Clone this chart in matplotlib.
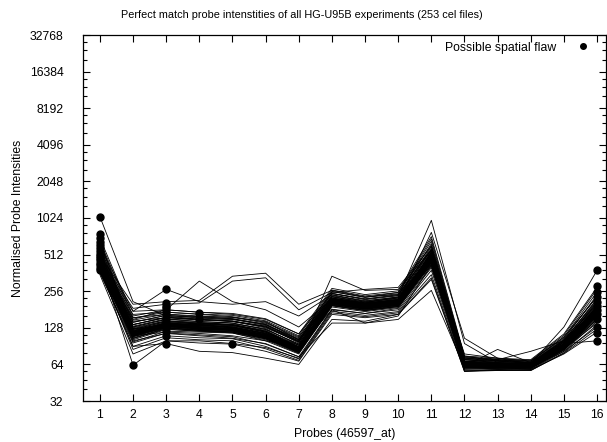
import numpy as np
import matplotlib
matplotlib.use("Agg")
import matplotlib.pyplot as plt
from matplotlib.ticker import FixedLocator, NullFormatter

plt.rcParams["font.family"] = ["Liberation Sans", "DejaVu Sans"]
plt.rcParams["font.size"] = 8.8

probes = list(range(1, 17))

# normalised PM intensities, one row per cel file (probes 1..16)
band = [
  [380,105,125,120,116,100,78,195,178,192,430,61,60,60,86,160],
  [400,112,132,126,122,106,82,205,186,200,455,63,62,62,89,170],
  [420,118,138,132,128,112,86,215,195,210,480,65,63,63,92,180],
  [450,124,144,138,134,118,90,225,204,220,510,67,65,64,95,192],
  [480,130,150,144,140,124,94,235,212,230,540,68,66,65,98,205],
  [520,136,156,150,146,130,98,245,220,240,575,70,67,66,101,218],
  [560,142,162,156,152,136,102,255,228,250,610,72,69,68,105,232],
  [360,96,116,112,108,94,74,182,168,180,400,59,58,58,82,145],
  [370,90,110,106,104,90,71,175,162,174,380,58,57,57,80,135],
  [390,85,106,102,100,86,69,170,158,170,350,57,57,57,79,125],
  [410,145,155,150,145,130,100,215,195,210,460,64,63,62,92,178],
  [430,155,165,158,152,136,104,225,202,218,500,66,64,63,95,188],
  [440,165,172,165,158,142,108,232,208,225,520,68,66,64,98,198],
  [460,175,180,172,165,150,114,245,218,235,560,70,68,66,102,212],
  [350,78,100,96,94,82,68,165,155,165,320,56,57,58,78,118],
  [395,108,128,122,118,104,81,200,182,196,445,62,61,61,88,165],
  [405,114,134,128,124,108,83,208,188,202,465,63,62,62,90,172],
  [415,116,136,130,126,110,85,212,192,206,475,64,63,62,91,176],
  [425,120,140,134,130,114,87,218,198,212,490,65,64,63,93,182],
  [435,126,136,140,136,120,89,212,194,208,505,65,63,63,92,185],
  [445,110,130,136,134,118,88,206,188,202,520,64,62,62,91,180],
  [455,106,126,124,124,112,84,200,182,196,535,63,62,61,90,172],
  [465,112,132,126,122,108,82,196,178,192,550,62,61,61,89,168],
  [475,116,136,130,126,112,84,204,186,200,495,64,62,62,91,176],
  [490,120,140,134,130,116,88,212,194,208,510,66,64,63,93,186],
  [510,126,146,140,136,120,92,222,202,216,525,67,65,64,95,196],
  [530,132,152,144,140,124,94,230,208,222,560,68,66,65,97,206],
  [550,136,156,148,144,128,98,238,214,228,595,70,68,66,100,222],
  [580,142,162,154,150,134,102,246,222,236,630,71,69,67,103,238],
  [620,148,166,160,156,140,106,254,228,244,660,72,70,68,107,252],
  [660,154,172,166,162,146,110,262,234,250,690,73,71,69,111,266],
  [700,160,180,172,168,152,114,270,240,258,720,75,72,70,114,276],
  [385,98,120,118,116,102,79,190,174,188,410,60,59,59,84,150],
  [398,102,124,120,118,104,80,194,177,191,425,61,60,60,85,155],
  [412,104,128,122,120,106,81,197,180,194,440,62,60,60,86,160],
  [428,108,131,125,122,108,82,200,183,197,455,62,61,61,87,164],
  [442,110,134,128,124,110,83,203,186,200,468,63,61,61,88,168],
  [458,113,136,131,126,112,84,206,189,203,478,64,62,61,89,172],
  [472,116,138,134,128,114,85,209,192,206,488,64,62,62,90,176],
  [488,118,140,136,130,116,86,212,195,209,498,65,63,62,91,180],
  [505,121,142,138,132,118,87,215,198,212,508,65,63,63,92,184],
  [525,124,144,140,134,120,88,218,201,215,518,66,64,63,93,188],
  [545,128,146,142,136,122,89,221,204,218,528,66,64,64,94,192],
  [365,112,130,132,138,126,92,200,185,198,420,60,60,60,86,155],
  [375,116,134,136,144,132,96,205,190,204,440,61,61,61,87,160],
  [405,130,150,152,150,138,98,215,198,212,460,62,62,61,88,166],
  [420,136,156,158,156,144,102,220,204,218,480,63,62,62,90,172],
  [600,122,140,134,130,114,86,212,194,210,500,64,63,62,91,178],
  [640,118,136,130,126,110,84,208,190,206,480,63,62,61,90,172],
  [680,114,132,126,122,106,82,204,186,202,460,62,61,60,89,168],
]

# the odd ones that stray from the bundle
stray = [
  [450,150,180,310,210,180,130,220,200,215,500,70,66,65,95,185],
  [500,200,210,215,340,360,200,260,230,240,560,75,68,66,100,200],
  [480,185,200,205,310,330,180,250,265,275,600,74,70,66,98,210],
  [600,175,265,210,200,210,160,240,210,225,520,78,72,68,108,230],
  [380,90,95,82,80,72,64,150,145,165,330,56,58,60,82,130],
  [400,110,118,115,110,100,90,180,140,150,260,60,60,62,86,140],
  [430,120,135,128,124,110,88,225,205,230,980,95,66,65,93,180],
  [420,125,130,135,128,115,92,215,200,210,780,105,72,64,98,190],
  [400,110,130,124,120,106,84,205,190,200,470,62,85,66,88,162],
  [410,112,132,126,122,108,84,208,192,204,490,64,70,82,100,170],
  [450,63,100,100,95,88,72,180,168,185,440,60,60,60,85,150],
  [1050,210,160,150,145,132,100,230,205,215,520,68,64,63,92,180],
  [400,100,115,110,105,95,74,140,140,160,420,60,59,59,84,150],
  [420,118,128,122,118,106,82,340,260,265,560,66,64,63,92,175],
  [450,115,135,128,124,110,86,220,196,212,520,66,64,65,130,380],
  [420,110,128,122,118,104,80,200,185,198,450,62,61,61,95,100],
]

# experiments flagged for a possible spatial flaw
flaw_probe = [1]*15 + [2] + [3]*12 + [4]*2 + [5] + [16]*12
flaw_value = [1050,760,700,650,610,580,550,520,500,480,460,440,420,400,380,
              63,
              265,205,195,185,175,165,150,140,130,120,110,95,
              170,150,
              95,
              380,280,250,230,210,195,180,165,150,130,115,100]

yticks = [32,64,128,256,512,1024,2048,4096,8192,16384,32768]

fig = plt.figure(figsize=(6.07, 4.42), dpi=100)
ax = fig.add_axes([83/607, 1-401/442, 523/607, 366/442])

for row in band + stray:
  ax.plot(probes, row, color="black", lw=0.6)
ax.plot(flaw_probe, flaw_value, "o", color="black", markersize=5,
        linestyle="none", label="Possible spatial flaw")

ax.set_yscale("log", base=2)
ax.set_ylim(32, 32768)
ax.set_xlim(0.49, 16.27)
ax.yaxis.set_major_locator(FixedLocator(yticks))
ax.set_yticklabels([str(v) for v in yticks])
minor = [v*s for v in yticks[:-1] for s in (1.25, 1.5, 1.75)]
ax.yaxis.set_minor_locator(FixedLocator(minor))
ax.yaxis.set_minor_formatter(NullFormatter())
ax.set_xticks(probes)

ax.tick_params(which="both", direction="in", top=True, right=True, width=0.8)
ax.tick_params(which="major", length=5)
ax.tick_params(which="minor", length=3)
ax.tick_params(axis="y", pad=14)
ax.tick_params(axis="x", pad=6)
for s in ax.spines.values():
  s.set_linewidth(0.9)

ax.set_xlabel("Probes (46597_at)", labelpad=5)
ax.set_ylabel("Normalised Probe Intensities", labelpad=4)
fig.text(0.497, 1-15/442, "Perfect match probe intenstities of all HG-U95B experiments (253 cel files)",
         ha="center", va="center", fontsize=7.8)
leg = ax.legend(loc="upper right", frameon=False, markerfirst=False, handletextpad=1.7,
                handlelength=1.0, markerscale=0.8, borderaxespad=0.3,
                bbox_to_anchor=(0.985, 1.005))

fig.savefig("out.png", dpi=100)
